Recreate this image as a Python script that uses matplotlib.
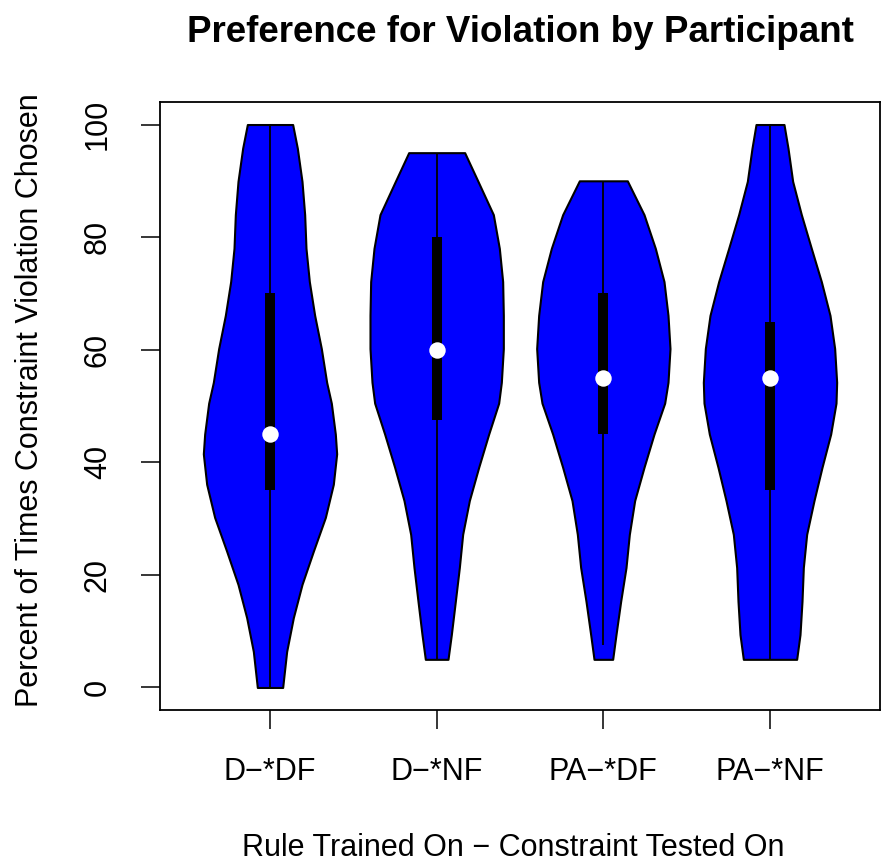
# Violin plot: preference for violation by participant
import numpy as np
import matplotlib.pyplot as plt

plt.rcParams['font.family'] = ['Liberation Sans', 'DejaVu Sans']

# categories
groups = ['D\u2212*DF', 'D\u2212*NF', 'PA\u2212*DF', 'PA\u2212*NF']

# density outline of each violin: y levels and relative width
levels_ddf = [100, 95.8, 89.9, 84, 78, 72.1, 66.1, 60.2, 54.2, 50.5, 45, 41.5,
              36.1, 30.2, 24.2, 18.3, 12.4, 6.4, 0]
dens_ddf = [0.34, 0.41, 0.48, 0.52, 0.54, 0.59, 0.67, 0.77, 0.85, 0.92, 0.98, 1.0,
            0.95, 0.83, 0.65, 0.48, 0.35, 0.25, 0.19]

levels_dnf = [95, 89.9, 84, 78, 72.1, 66.1, 60.2, 54.2, 50.5, 45, 39.1, 33.2,
              27.2, 21.3, 15.3, 9.4, 5]
dens_dnf = [0.42, 0.62, 0.85, 0.94, 0.99, 1.0, 1.0, 0.97, 0.93, 0.78, 0.63, 0.49,
            0.39, 0.34, 0.28, 0.22, 0.17]

levels_padf = [90, 84, 78, 72.1, 66.1, 60.2, 54.2, 50.5, 45, 39.1, 33.2, 27.2,
               21.3, 15.3, 9.4, 5]
dens_padf = [0.36, 0.61, 0.78, 0.91, 0.97, 1.0, 0.97, 0.92, 0.76, 0.61, 0.47, 0.39,
             0.34, 0.26, 0.19, 0.14]

levels_panf = [100, 95.8, 89.9, 84, 78, 72.1, 66.1, 60.2, 54.2, 50.5, 45, 39.1,
               33.2, 27.2, 21.3, 15.3, 9.4, 5]
dens_panf = [0.21, 0.27, 0.34, 0.47, 0.62, 0.77, 0.90, 0.97, 1.0, 0.99, 0.91, 0.78,
             0.66, 0.55, 0.50, 0.48, 0.45, 0.40]

# box plot summary for each group
medians = [45, 60, 55, 55]
q1 = [35, 47.5, 45, 35]
q3 = [70, 80, 70, 65]
whisk_lo = [0, 5, 7.5, 5]
whisk_hi = [100, 95, 90, 100]

all_levels = [levels_ddf, levels_dnf, levels_padf, levels_panf]
all_dens = [dens_ddf, dens_dnf, dens_padf, dens_panf]

fig = plt.figure(figsize=(8.84, 8.64), dpi=100)
ax = fig.add_axes([160 / 884, 154 / 864, 720 / 884, 608 / 864])

pos = np.arange(1, len(groups) + 1)
for i in range(len(groups)):
    lv = np.array(all_levels[i])
    d = np.array(all_dens[i]) * 0.4
    ax.fill_betweenx(lv, pos[i] - d, pos[i] + d, facecolor='#0000FF',
                     edgecolor='black', linewidth=1.5, zorder=1)

# whiskers, boxes and medians
ax.vlines(pos, whisk_lo, whisk_hi, color='black', linewidth=1.3, zorder=2)
ax.bar(pos, np.array(q3) - np.array(q1), bottom=q1, width=0.06,
       color='black', zorder=3)
ax.scatter(pos, medians, s=140, color='white', zorder=4, linewidths=0)

ax.set_xlim(0.34, 4.66)
ax.set_ylim(-4, 104)
ax.set_xticks(pos)
ax.set_xticklabels(groups)
ax.set_yticks([0, 20, 40, 60, 80, 100])
ax.tick_params(axis='both', labelsize=22, length=14, width=1.1, pad=20)
plt.setp(ax.get_yticklabels(), rotation=90, va='center')

for sp in ax.spines.values():
    sp.set_linewidth(1.3)

ax.set_title('Preference for Violation by Participant', fontsize=26.5,
             fontweight='bold', pad=43)
ax.set_xlabel('Rule Trained On \u2212 Constraint Tested On', fontsize=22)
ax.set_ylabel('Percent of Times Constraint Violation Chosen', fontsize=22)
ax.xaxis.set_label_coords(0.49, -0.227)
ax.yaxis.set_label_coords(-0.18, 0.51)
ax.xaxis.label.set_va('center')
ax.yaxis.label.set_va('center')

plt.savefig('out.png', dpi=100)
